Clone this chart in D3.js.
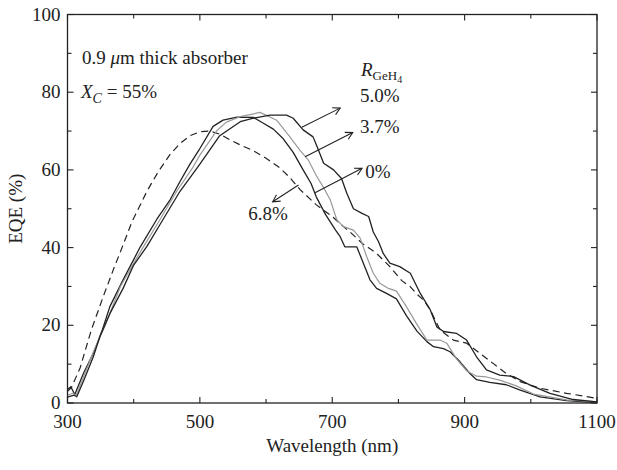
<!DOCTYPE html>
<html>
<head>
<meta charset="utf-8">
<script src="https://cdn.jsdelivr.net/npm/d3@7"></script>
<style>
  html, body { margin: 0; padding: 0; background: #fff; }
  svg { display: block; }
  text { font-family: "Liberation Serif", "Times New Roman", serif; fill: #222; }
</style>
</head>
<body>
<div id="chart"></div>
<script>
// EQE vs wavelength
const wlDash = [300, 306, 319, 336, 354, 369, 384, 397, 420, 437, 455, 470, 485, 500, 515, 530, 545, 560, 580, 600, 621, 636, 651, 676, 700, 717, 727, 746, 767, 787, 805, 818, 828, 838, 848, 863, 883, 903, 923, 943, 963, 984, 1014, 1054, 1100];
const eqeDash = [3.0, 4.0, 9.0, 18.8, 27.4, 34.2, 40.7, 46.5, 54.5, 59.5, 64, 66.8, 68.8, 69.8, 70, 69.2, 67.8, 66.5, 65, 63, 60.5, 58, 55, 51, 48, 45.4, 44, 41, 38.5, 35.1, 31.5, 29.9, 28, 26.5, 24, 18.8, 16.2, 15.4, 12.8, 10.2, 7.6, 5.5, 3.8, 2.5, 1.2];

const wl0 = [300, 305, 311, 324, 339, 346, 353, 364, 384, 410, 435, 455, 470, 485, 500, 520, 535, 556, 581, 596, 611, 626, 641, 656, 668, 676, 690, 705, 712, 719, 737, 742, 757, 767, 782, 797, 812, 828, 843, 853, 868, 878, 893, 908, 918, 938, 963, 983, 1014, 1054, 1100];
const eqe0 = [3.5, 4.2, 2.2, 7.6, 12.8, 15.8, 19, 24.8, 31.7, 40.2, 47.3, 52.3, 57, 61.5, 65.5, 71.2, 72.8, 73.6, 73.5, 72, 70.5, 68, 64.5, 60, 56.5, 53, 48.5, 44.5, 42.8, 40.2, 40.2, 38.1, 31.7, 29.5, 28.2, 26.8, 22.5, 18.5, 15.8, 14.5, 14.0, 13.2, 10.6, 7.6, 6.0, 5.3, 4.7, 3.4, 1.6, 0.6, 0.1];

const wl37 = [300, 308, 313, 325, 340, 357, 380, 400, 414, 440, 465, 490, 500, 525, 540, 561, 591, 616, 636, 651, 664, 676, 686, 697, 707, 717, 732, 742, 752, 762, 772, 785, 797, 812, 827, 843, 863, 873, 888, 903, 918, 933, 953, 978, 1004, 1054, 1100];
const eqe37 = [2.0, 2.5, 2.0, 7, 13.5, 20, 30, 36, 40, 47.3, 54.5, 60.8, 63.8, 70, 72.3, 73.7, 74.8, 72.8, 68.5, 65.1, 62.5, 58.5, 55.7, 52.3, 47.1, 45.4, 44.5, 42.5, 37.7, 33.4, 30.8, 29.5, 28.8, 24.8, 20.5, 16.2, 16.2, 15.4, 11.3, 8.3, 6.9, 6.7, 5.9, 4.4, 2.3, 0.8, 0.3];

const wl50 = [300, 310, 314, 325, 339, 349, 364, 384, 400, 420, 440, 470, 500, 530, 561, 581, 606, 631, 641, 656, 671, 677, 687, 702, 714, 722, 732, 745, 755, 762, 770, 777, 787, 802, 818, 833, 848, 858, 868, 888, 903, 918, 933, 953, 974, 999, 1029, 1064, 1100];
const eqe50 = [1.5, 2.0, 1.6, 6, 11.9, 17.1, 23, 29.5, 35.5, 40.3, 46, 54.5, 61.5, 68.8, 72.4, 73.3, 74.1, 74.1, 73.3, 70.3, 68.5, 66, 61.7, 60, 57.8, 54, 50, 48.8, 48, 44, 41.5, 38.5, 36, 35.1, 33.4, 28.2, 24, 19.6, 18.4, 17.9, 16.2, 11.9, 8.5, 7.2, 6.8, 4.6, 2.5, 0.9, 0.3];

const xMajor = [300, 500, 700, 900, 1100];
const xMinor = [400, 600, 800, 1000];
const yMajor = [0, 20, 40, 60, 80, 100];
const yMinor = [10, 30, 50, 70, 90];

// arrows (data units) and their labels
const arrowLabels = ['5.0%', '3.7%', '0%', '6.8%'];
const arrowFrom = [[654, 71.0], [659, 63.4], [674, 54.1], [649, 56.1]];
const arrowTo = [[712, 75.9], [731, 69.6], [745, 60.4], [610, 51.8]];
const labelPos = [[742, 77.5], [742, 69.5], [750, 57.9], [573, 47.0]];

(function(){
  const W = 617, H = 470;
  const left = 67.5, right = 597, top = 14.5, bottom = 403;
  const svg = d3.select('#chart').append('svg').attr('width', W).attr('height', H);

  const x = d3.scaleLinear().domain([300, 1100]).range([left, right]);
  const y = d3.scaleLinear().domain([0, 100]).range([bottom, top]);
  const fs = 19;
  const ink = '#222';

  // ticks (inward, all four sides)
  const tk = svg.append('g').attr('stroke', ink).attr('stroke-width', 1.1);
  const xt = xMajor.map(v => [v, 6]).concat(xMinor.map(v => [v, 4]));
  xt.forEach(([v, l]) => {
    tk.append('line').attr('x1', x(v)).attr('x2', x(v)).attr('y1', bottom).attr('y2', bottom - l);
    tk.append('line').attr('x1', x(v)).attr('x2', x(v)).attr('y1', top).attr('y2', top + l);
  });
  const yt = yMajor.map(v => [v, 6]).concat(yMinor.map(v => [v, 4]));
  yt.forEach(([v, l]) => {
    tk.append('line').attr('y1', y(v)).attr('y2', y(v)).attr('x1', left).attr('x2', left + l);
    tk.append('line').attr('y1', y(v)).attr('y2', y(v)).attr('x1', right).attr('x2', right - l);
  });

  // curves
  const line = d3.line().x(d => x(d[0])).y(d => y(d[1]));
  const series = [
    {wl: wlDash, v: eqeDash, color: ink, dash: '7,4.5', w: 1.2},
    {wl: wl0, v: eqe0, color: ink, dash: null, w: 1.3},
    {wl: wl37, v: eqe37, color: '#999', dash: null, w: 1.2},
    {wl: wl50, v: eqe50, color: ink, dash: null, w: 1.3}
  ];
  series.forEach(s => {
    svg.append('path')
      .datum(s.wl.map((w, i) => [w, s.v[i]]))
      .attr('d', line)
      .attr('fill', 'none')
      .attr('stroke', s.color)
      .attr('stroke-width', s.w)
      .attr('stroke-linejoin', 'round')
      .attr('stroke-dasharray', s.dash);
  });

  // frame
  svg.append('rect').attr('x', left).attr('y', top).attr('width', right - left).attr('height', bottom - top)
    .attr('fill', 'none').attr('stroke', ink).attr('stroke-width', 1.3);

  // tick labels
  svg.append('g').selectAll('text').data(xMajor).join('text')
    .attr('x', d => x(d)).attr('y', 428).attr('text-anchor', 'middle')
    .attr('font-size', fs).text(d => d);
  svg.append('g').selectAll('text').data(yMajor).join('text')
    .attr('x', left - 7).attr('y', d => y(d) + 6).attr('text-anchor', 'end')
    .attr('font-size', fs).text(d => d);

  // axis titles
  svg.append('text').attr('x', (left + right) / 2).attr('y', 452).attr('text-anchor', 'middle')
    .attr('font-size', fs).text('Wavelength (nm)');
  svg.append('text').attr('transform', `translate(22,${(top + bottom) / 2}) rotate(-90)`)
    .attr('text-anchor', 'middle').attr('font-size', fs).text('EQE (%)');

  // annotations
  const t1 = svg.append('text').attr('x', 82).attr('y', 64).attr('font-size', fs);
  t1.append('tspan').text('0.9 ');
  t1.append('tspan').attr('font-style', 'italic').text('μ');
  t1.append('tspan').text('m thick absorber');

  const t2 = svg.append('text').attr('x', 81).attr('y', 98).attr('font-size', fs);
  t2.append('tspan').attr('font-style', 'italic').text('X');
  t2.append('tspan').attr('font-style', 'italic').attr('font-size', 14).attr('dy', 5).text('C');
  t2.append('tspan').attr('dy', -5).text(' = 55%');

  const t3 = svg.append('text').attr('x', 361).attr('y', 76).attr('font-size', fs);
  t3.append('tspan').attr('font-style', 'italic').text('R');
  t3.append('tspan').attr('font-size', 13).attr('dy', 4).text('GeH');
  t3.append('tspan').attr('font-size', 10).attr('dy', 3).text('4');

  // arrows
  const ag = svg.append('g').attr('stroke', ink).attr('stroke-width', 1.1).attr('fill', 'none');
  arrowFrom.forEach((f, i) => {
    const x1 = x(f[0]), y1 = y(f[1]), x2 = x(arrowTo[i][0]), y2 = y(arrowTo[i][1]);
    ag.append('line').attr('x1', x1).attr('y1', y1).attr('x2', x2).attr('y2', y2);
    const a = Math.atan2(y2 - y1, x2 - x1), L = 8, sp = 0.5;
    const p1 = [x2 - L * Math.cos(a - sp), y2 - L * Math.sin(a - sp)];
    const p2 = [x2 - L * Math.cos(a + sp), y2 - L * Math.sin(a + sp)];
    ag.append('path').attr('d', `M${p1}L${x2},${y2}L${p2}`);
    svg.append('text').attr('x', x(labelPos[i][0])).attr('y', y(labelPos[i][1]))
      .attr('font-size', fs).text(arrowLabels[i]);
  });
})();
</script>
</body>
</html>
